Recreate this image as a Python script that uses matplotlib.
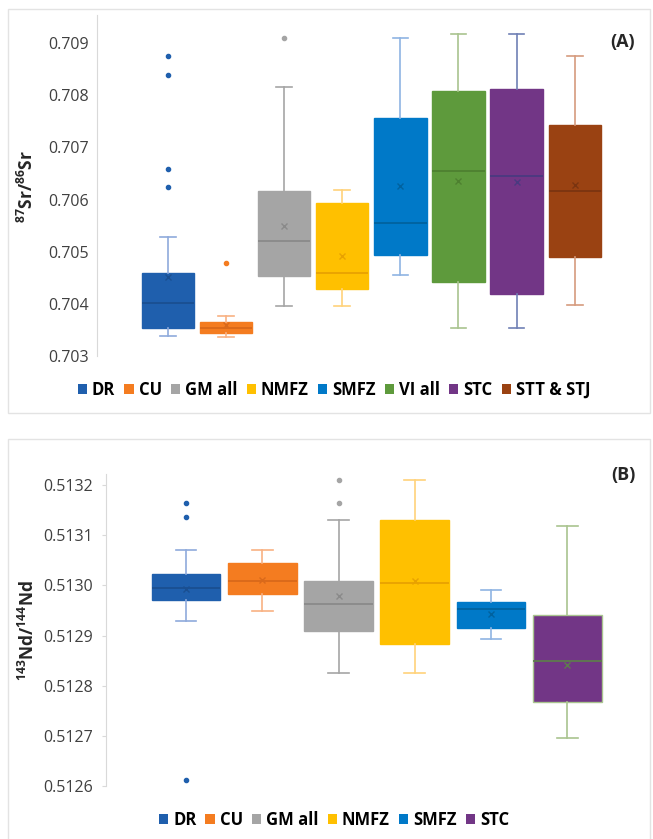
import numpy as np
import matplotlib.pyplot as plt
from matplotlib.patches import Rectangle, Patch

plt.rcParams['font.family'] = ['Open Sans', 'DejaVu Sans']
plt.rcParams['mathtext.fontset'] = 'custom'
plt.rcParams['mathtext.rm'] = 'Open Sans'
plt.rcParams['mathtext.bf'] = 'Open Sans:bold'
plt.rcParams['mathtext.default'] = 'bf'

# (A) 87Sr/86Sr
sr_groups = ['DR', 'CU', 'GM all', 'NMFZ', 'SMFZ', 'VI all', 'STC', 'STT & STJ']
sr_whislo = [0.70338, 0.70336, 0.70396, 0.70396, 0.70455, 0.70354, 0.70354, 0.70398]
sr_q1     = [0.70354, 0.70344, 0.70453, 0.70428, 0.70493, 0.70442, 0.70419, 0.70490]
sr_med    = [0.70402, 0.70354, 0.70520, 0.70459, 0.70555, 0.70654, 0.70645, 0.70616]
sr_q3     = [0.70459, 0.70365, 0.70616, 0.70593, 0.70756, 0.70808, 0.70813, 0.70743]
sr_whishi = [0.70528, 0.70377, 0.70815, 0.70618, 0.70909, 0.70917, 0.70917, 0.70875]
sr_mean   = [0.70451, 0.70359, 0.70549, 0.70492, 0.70626, 0.70635, 0.70633, 0.70628]
sr_fliers = [[0.70875, 0.70838, 0.70658, 0.70624], [0.70478], [0.70909], [], [], [], [], []]

# (B) 143Nd/144Nd
nd_groups = ['DR', 'CU', 'GM all', 'NMFZ', 'SMFZ', 'STC']
nd_whislo = [0.512929, 0.512948, 0.512825, 0.512825, 0.512893, 0.512696]
nd_q1     = [0.512970, 0.512983, 0.512909, 0.512883, 0.512915, 0.512767]
nd_med    = [0.512995, 0.513009, 0.512963, 0.513004, 0.512953, 0.512850]
nd_q3     = [0.513022, 0.513045, 0.513008, 0.513130, 0.512967, 0.512940]
nd_whishi = [0.513070, 0.513070, 0.513130, 0.513211, 0.512991, 0.513119]
nd_mean   = [0.512992, 0.513010, 0.512979, 0.513009, 0.512943, 0.512842]
nd_fliers = [[0.513165, 0.513136, 0.512611], [], [0.513211, 0.513164], [], [], []]

fill = {'DR': '#1F5FAD', 'CU': '#F47C20', 'GM all': '#A5A5A5', 'NMFZ': '#FFC000',
        'SMFZ': '#0079C8', 'VI all': '#5E9A3C', 'STC': '#723686', 'STT & STJ': '#9A4212'}
dark = {'DR': '#1A4F91', 'CU': '#D9691A', 'GM all': '#8A8A8A', 'NMFZ': '#E8A200',
        'SMFZ': '#00629F', 'VI all': '#4E8030', 'STC': '#4A3A80', 'STT & STJ': '#7A3410'}
whisk = {'DR': '#8FAADC', 'CU': '#F8B183', 'GM all': '#A5A5A5', 'NMFZ': '#FFD27A',
         'SMFZ': '#8FB4E3', 'VI all': '#A9C48F', 'STC': '#7080B5', 'STT & STJ': '#D59B7E'}


def draw_panel(ax, groups, whislo, q1, med, q3, whishi, mean, fliers, whisk_over=None):
    stats = []
    for i in range(len(groups)):
        stats.append(dict(whislo=whislo[i], q1=q1[i], med=med[i], q3=q3[i],
                          whishi=whishi[i], mean=mean[i], fliers=fliers[i]))
    pos = np.arange(1, len(groups) + 1)
    bp = ax.bxp(stats, positions=pos, widths=0.9, capwidths=0.27, patch_artist=True,
                showmeans=True, showfliers=True)
    whisk_over = whisk_over or {}
    for i, g in enumerate(groups):
        wc = whisk_over.get(g, whisk[g])
        dc = whisk_over.get(g + '_med', dark[g])
        bp['boxes'][i].set(facecolor=fill[g], edgecolor=whisk_over.get(g, fill[g]), linewidth=1)
        bp['medians'][i].set(color=dc, linewidth=1.3)
        for ln in bp['whiskers'][2*i:2*i+2] + bp['caps'][2*i:2*i+2]:
            ln.set(color=wc, linewidth=1.2)
        bp['means'][i].set(marker='x', markersize=5, markeredgecolor=dc, markeredgewidth=1)
        bp['fliers'][i].set(marker='o', markersize=3, markerfacecolor=fill[g],
                            markeredgecolor=fill[g])
    for s in ['top', 'right', 'bottom']:
        ax.spines[s].set_visible(False)
    ax.spines['left'].set_color('#D9D9D9')
    ax.set_xticks([])
    ax.tick_params(axis='y', length=0, pad=6, labelsize=11.5, labelcolor='#404040')
    handles = [Patch(facecolor=fill[g], edgecolor='none', label=g) for g in groups]
    return handles


fig = plt.figure(figsize=(6.53, 8.39), dpi=100)
W, H = 653, 839

# panel frames
fig.patches.append(Rectangle((8/W, 1 - 413/H), 642/W, 404/H, transform=fig.transFigure,
                             fill=False, edgecolor='#E3E3E3', linewidth=1))
fig.patches.append(Rectangle((8/W, -0.01), 642/W, 1 - 439/H + 0.01, transform=fig.transFigure,
                             fill=False, edgecolor='#E3E3E3', linewidth=1))

axA = fig.add_axes([97/W, 1 - 356/H, 548/W, 341/H])
hA = draw_panel(axA, sr_groups, sr_whislo, sr_q1, sr_med, sr_q3, sr_whishi, sr_mean, sr_fliers)
axA.set_xlim(-0.222, 9.21)
axA.set_ylim(0.703, 0.70954)
axA.set_yticks([0.703, 0.704, 0.705, 0.706, 0.707, 0.708, 0.709])
axA.set_yticklabels(['0.703', '0.704', '0.705', '0.706', '0.707', '0.708', '0.709'])
fig.text(27/W, 1 - 187/H, r'$^{87}$Sr/$^{86}$Sr', rotation=90, ha='center', va='center',
         fontsize=12.5, fontweight='bold', color='#262626')
fig.text(623/W, 1 - 42/H, '(A)', ha='center', va='center', fontsize=13, fontweight='bold',
         color='#262626')
fig.legend(handles=hA, loc='center', bbox_to_anchor=(334/W, 1 - 390/H), ncol=8, frameon=False,
           handlelength=0.55, handleheight=0.55, handletextpad=0.3, columnspacing=0.55,
           prop={'size': 12, 'weight': 'bold'})

axB = fig.add_axes([106/W, 1 - 786/H, 539/W, 312/H])
hB = draw_panel(axB, nd_groups, nd_whislo, nd_q1, nd_med, nd_q3, nd_whishi, nd_mean, nd_fliers,
                whisk_over={'STC': '#A9C48F', 'STC_med': '#5F7A4E'})
axB.set_xlim(-0.05, 7.02)
axB.set_ylim(0.5126, 0.513222)
axB.set_yticks([0.5126, 0.5127, 0.5128, 0.5129, 0.5130, 0.5131, 0.5132])
axB.set_yticklabels(['0.5126', '0.5127', '0.5128', '0.5129', '0.5130', '0.5131', '0.5132'])
axB.tick_params(axis='y', length=3, color='#D9D9D9')
fig.text(28/W, 1 - 630/H, r'$^{143}$Nd/$^{144}$Nd', rotation=90, ha='center', va='center',
         fontsize=12.5, fontweight='bold', color='#262626')
fig.text(623/W, 1 - 475/H, '(B)', ha='center', va='center', fontsize=13, fontweight='bold',
         color='#262626')
fig.legend(handles=hB, loc='center', bbox_to_anchor=(334/W, 1 - 820/H), ncol=6, frameon=False,
           handlelength=0.55, handleheight=0.55, handletextpad=0.3, columnspacing=0.55,
           prop={'size': 12, 'weight': 'bold'})

fig.savefig('out.png', dpi=100)
